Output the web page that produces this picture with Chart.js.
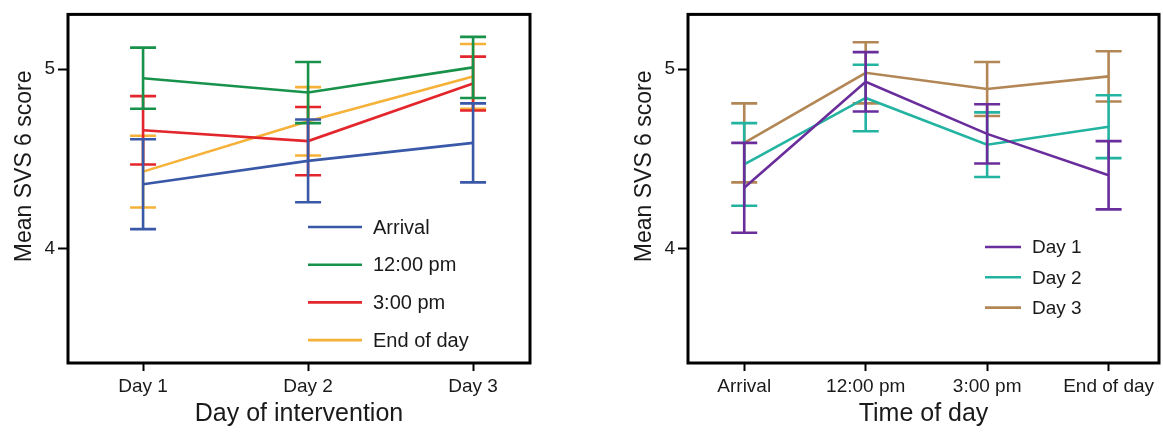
<!DOCTYPE html>
<html>
<head>
<meta charset="utf-8">
<title>Mean SVS 6 score</title>
<script src="https://cdn.jsdelivr.net/npm/chart.js@4.4.1/dist/chart.umd.min.js"></script>
<style>
    html, body { margin: 0; padding: 0; background: #fff; }
    body { width: 1163px; height: 433px; position: relative; overflow: hidden; }
    canvas { position: absolute; top: 0; }
    #byDay { left: 0; }
    #byTime { left: 620px; }
</style>
</head>
<body>
<canvas id="byDay" width="560" height="433"></canvas>
<canvas id="byTime" width="543" height="433"></canvas>
<script>
// Mean SVS 6 score panels
// -----------------------------------

// Left panel: by day of intervention
var dayLabels = ['Day 1', 'Day 2', 'Day 3'];
var arrivalMean = [4.36, 4.49, 4.59];
var arrivalErr = [0.25, 0.23, 0.22];
var noonMean = [4.95, 4.87, 5.01];
var noonErr = [0.17, 0.17, 0.17];
var threePmMean = [4.66, 4.60, 4.92];
var threePmErr = [0.19, 0.19, 0.15];
var endOfDayMean = [4.43, 4.71, 4.96];
var endOfDayErr = [0.20, 0.19, 0.18];

// Right panel: by time of day
var timeLabels = ['Arrival', '12:00 pm', '3:00 pm', 'End of day'];
var day1Mean = [4.34, 4.93, 4.64, 4.41];
var day1Err = [0.25, 0.165, 0.165, 0.19];
var day2Mean = [4.47, 4.84, 4.58, 4.68];
var day2Err = [0.23, 0.185, 0.18, 0.175];
var day3Mean = [4.59, 4.98, 4.89, 4.96];
var day3Err = [0.22, 0.17, 0.15, 0.14];

var yTicks = [4, 5];

(function(window, document, Chart, undefined) {

    var FONT = '"Liberation Sans", Arial, Helvetica, sans-serif';

    // x values are the category index, offset by the first index
    function points(means, first) {
        return means.map(function(v, i) { return { x: i + first, y: v }; });
    }

    function series(label, color, means, errs, first) {
        return {
            label: label,
            data: points(means, first),
            errors: errs,
            borderColor: color,
            backgroundColor: color,
            borderWidth: 2.6,
            pointRadius: 0,
            tension: 0
        };
    }

    // Error bars, drawn right after each dataset's line
    var errorBars = {
        id: 'errorBars',
        afterDatasetDraw: function(chart, args) {
            var ds = chart.data.datasets[args.index];
            var xs = chart.scales.x, ys = chart.scales.y;
            var ctx = chart.ctx;
            var cap = 13;
            ctx.save();
            ctx.strokeStyle = ds.borderColor;
            ctx.lineWidth = 2.6;
            ds.data.forEach(function(p, i) {
                var x = xs.getPixelForValue(p.x);
                var hi = ys.getPixelForValue(p.y + ds.errors[i]);
                var lo = ys.getPixelForValue(p.y - ds.errors[i]);
                ctx.beginPath();
                ctx.moveTo(x, hi); ctx.lineTo(x, lo);
                ctx.moveTo(x - cap, hi); ctx.lineTo(x + cap, hi);
                ctx.moveTo(x - cap, lo); ctx.lineTo(x + cap, lo);
                ctx.stroke();
            });
            ctx.restore();
        }
    };

    // Closed frame around the plot area
    var frame = {
        id: 'frame',
        afterDraw: function(chart) {
            var a = chart.chartArea, ctx = chart.ctx;
            ctx.save();
            ctx.strokeStyle = '#000';
            ctx.lineWidth = 3;
            ctx.strokeRect(a.left, a.top, a.right - a.left, a.bottom - a.top);
            ctx.restore();
        }
    };

    // Legend inside the plot area: short line + label
    var innerLegend = {
        id: 'innerLegend',
        afterDraw: function(chart, args, opts) {
            var ctx = chart.ctx;
            ctx.save();
            ctx.font = opts.fontSize + 'px ' + FONT;
            ctx.textBaseline = 'middle';
            ctx.fillStyle = '#1a1a1a';
            chart.data.datasets.forEach(function(ds, i) {
                var y = opts.y + i * opts.gap;
                ctx.strokeStyle = ds.borderColor;
                ctx.lineWidth = 2.6;
                ctx.beginPath();
                ctx.moveTo(opts.x, y);
                ctx.lineTo(opts.x + opts.line, y);
                ctx.stroke();
                ctx.fillText(ds.label, opts.x + opts.line + 11, y + 1);
            });
            ctx.restore();
        }
    };

    function makeChart(id, labels, datasets, xMin, xMax, first, xTitle, legend, rightPad) {
        return new Chart(document.getElementById(id), {
            type: 'line',
            data: { datasets: datasets },
            plugins: [errorBars, frame, innerLegend],
            options: {
                responsive: false,
                animation: false,
                layout: { padding: { top: 8, right: rightPad, bottom: 0, left: 0 } },
                plugins: {
                    legend: { display: false },
                    tooltip: { enabled: false },
                    innerLegend: legend
                },
                scales: {
                    x: {
                        type: 'linear',
                        min: xMin,
                        max: xMax,
                        afterFit: function(s) { s.height = 70; },
                        afterBuildTicks: function(s) {
                            s.ticks = labels.map(function(l, i) { return { value: i + first }; });
                        },
                        ticks: {
                            color: '#1a1a1a',
                            padding: 4,
                            maxRotation: 0,
                            font: { family: FONT, size: 19 },
                            callback: function(v) { return labels[v - first]; }
                        },
                        grid: { drawOnChartArea: false, drawTicks: true, tickLength: 8, tickWidth: 2, tickColor: '#000' },
                        border: { display: false },
                        title: {
                            display: true,
                            text: xTitle,
                            color: '#1a1a1a',
                            padding: { top: 0, bottom: 4 },
                            font: { family: FONT, size: 25 }
                        }
                    },
                    y: {
                        min: 3.365,
                        max: 5.305,
                        afterFit: function(s) { s.width = 68; },
                        afterBuildTicks: function(s) {
                            s.ticks = yTicks.map(function(v) { return { value: v }; });
                        },
                        ticks: {
                            color: '#1a1a1a',
                            padding: 3,
                            font: { family: FONT, size: 19 }
                        },
                        grid: { drawOnChartArea: false, drawTicks: true, tickLength: 10, tickWidth: 2, tickColor: '#000' },
                        border: { display: false },
                        title: {
                            display: true,
                            // leading gap lifts the rotated label above the axis centre
                            text: '       Mean SVS 6 score',
                            color: '#1a1a1a',
                            padding: { top: 11, bottom: 0 },
                            font: { family: FONT, size: 23 }
                        }
                    }
                }
            }
        });
    }

    /*-----------------Day of intervention-----------------*/
    makeChart('byDay', dayLabels, [
        series('Arrival', '#3a58a8', arrivalMean, arrivalErr, 1),
        series('12:00 pm', '#18924a', noonMean, noonErr, 1),
        series('3:00 pm', '#e3262b', threePmMean, threePmErr, 1),
        series('End of day', '#f6b138', endOfDayMean, endOfDayErr, 1)
    ], 0.545, 3.345, 1, 'Day of intervention',
        { x: 308, y: 227, gap: 37.7, line: 54, fontSize: 20 }, 30);

    /*-----------------Time of day-----------------*/
    makeChart('byTime', timeLabels, [
        series('Day 1', '#6a2e9c', day1Mean, day1Err, 0),
        series('Day 2', '#22b3a1', day2Mean, day2Err, 0),
        series('Day 3', '#b38655', day3Mean, day3Err, 0)
    ], -0.463, 3.415, 0, 'Time of day',
        { x: 365, y: 247, gap: 30.3, line: 36, fontSize: 19 }, 4);

})(window, document, window.Chart);
</script>
</body>
</html>
